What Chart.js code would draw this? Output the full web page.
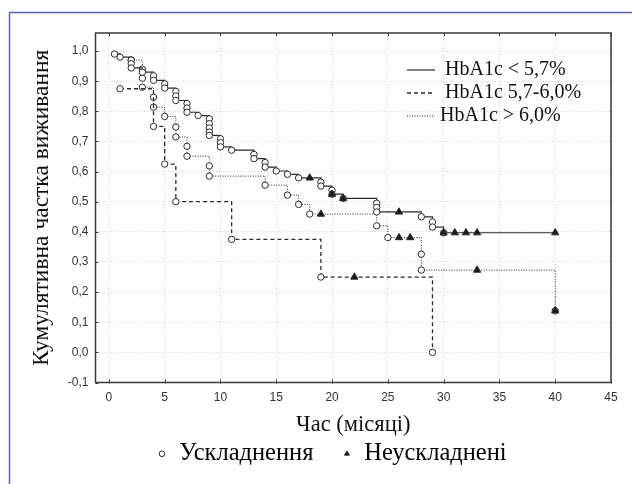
<!DOCTYPE html>
<html>
<head>
<meta charset="utf-8">
<script src="https://cdn.jsdelivr.net/npm/chart.js@4.4.0/dist/chart.umd.min.js"></script>
<style>
  html, body { margin: 0; padding: 0; background: #fff; }
  #wrap { position: relative; width: 632px; height: 484px; }
</style>
</head>
<body>
<div id="wrap"><canvas id="km" width="632" height="484"></canvas></div>
<script>
// Kaplan-Meier curves
const groupNames = ["HbA1c < 5,7%", "HbA1c 5,7-6,0%", "HbA1c > 6,0%"];
const markerNames = ["Ускладнення", "Неускладнені"];
const xTitle = "Час (місяці)";
const yTitle = "Кумулятивна частка виживання";
const xTicks = [0, 5, 10, 15, 20, 25, 30, 35, 40, 45];
const yTicks = [-0.1, 0, 0.1, 0.2, 0.3, 0.4, 0.5, 0.6, 0.7, 0.8, 0.9, 1.0];

// 1 = censored (triangle), 0 = complication (circle)
const lowTime = [0.5, 1, 2, 2, 2, 3, 4, 4, 5, 5, 6, 6, 6, 7, 7, 7, 8, 9, 9, 9, 9, 9, 10, 10, 10, 11, 13, 13, 14, 14, 15, 16, 17, 18, 19, 19, 20, 20, 20, 21, 21, 24, 24, 24, 26, 28, 29, 29, 30, 30, 31, 32, 33, 40];
const lowSurv = [0.99, 0.98, 0.97, 0.958, 0.944, 0.93, 0.918, 0.903, 0.891, 0.877, 0.866, 0.851, 0.836, 0.826, 0.811, 0.797, 0.786, 0.775, 0.759, 0.745, 0.731, 0.72, 0.709, 0.696, 0.682, 0.671, 0.657, 0.643, 0.63, 0.615, 0.602, 0.591, 0.579, 0.579, 0.565, 0.552, 0.538, 0.525, 0.525, 0.511, 0.511, 0.495, 0.481, 0.466, 0.466, 0.45, 0.433, 0.416, 0.397, 0.397, 0.397, 0.397, 0.397, 0.397];
const lowCens = [0, 0, 0, 0, 0, 0, 0, 0, 0, 0, 0, 0, 0, 0, 0, 0, 0, 0, 0, 0, 0, 0, 0, 0, 0, 0, 0, 0, 0, 0, 0, 0, 0, 1, 0, 0, 0, 0, 1, 0, 1, 0, 0, 0, 1, 0, 0, 0, 0, 1, 1, 1, 1, 1];

const midTime = [1, 4, 5, 6, 11, 19, 22, 29];
const midSurv = [0.875, 0.75, 0.625, 0.5, 0.375, 0.25, 0.25, 0];
const midCens = [0, 0, 0, 0, 0, 0, 1, 0];

const highTime = [2, 3, 3, 3, 4, 4, 5, 6, 6, 7, 7, 9, 9, 14, 16, 17, 18, 19, 24, 25, 26, 27, 28, 28, 33, 40, 40];
const highSurv = [0.97, 0.94, 0.91, 0.88, 0.847, 0.814, 0.783, 0.748, 0.715, 0.684, 0.651, 0.619, 0.585, 0.555, 0.522, 0.491, 0.459, 0.459, 0.42, 0.381, 0.381, 0.381, 0.326, 0.273, 0.273, 0.138, 0.138];
const highCens = [0, 0, 0, 0, 0, 0, 0, 0, 0, 0, 0, 0, 0, 0, 0, 0, 0, 1, 0, 0, 1, 1, 0, 0, 1, 0, 1];

const ink = "#2b2b2b";

function kmDataset(label, times, surv, cens, dash, width) {
  return {
    label: label,
    data: times.map((t, i) => ({ x: t, y: surv[i] })),
    stepped: true,
    fill: false,
    borderColor: ink,
    borderWidth: width,
    borderDash: dash,
    pointStyle: cens.map(c => (c ? "triangle" : "circle")),
    pointRadius: cens.map(c => (c ? 4.2 : 3.2)),
    pointHoverRadius: cens.map(c => (c ? 4.2 : 3.2)),
    pointBackgroundColor: cens.map(c => (c ? "#1a1a1a" : "#fff")),
    pointBorderColor: ink,
    pointBorderWidth: 1,
  };
}

// line legend inside the plot, frame, inward ticks, page border
const decorations = {
  id: "decorations",
  beforeDraw(chart) {
    const ctx = chart.ctx;
    ctx.save();
    ctx.strokeStyle = "#5563ab";
    ctx.lineWidth = 1.5;
    ctx.beginPath();
    ctx.moveTo(9.5, 484);
    ctx.lineTo(9.5, 12.5);
    ctx.lineTo(632, 12.5);
    ctx.stroke();
    ctx.restore();
  },
  afterDraw(chart) {
    const { ctx, chartArea: a, scales } = chart;
    ctx.save();
    ctx.strokeStyle = "#3a3a3a";
    ctx.lineWidth = 1.5;
    ctx.strokeRect(a.left, a.top, a.right - a.left, a.bottom - a.top);
    ctx.lineWidth = 1;
    ctx.beginPath();
    xTicks.forEach(v => {
      const px = Math.round(scales.x.getPixelForValue(v)) + 0.5;
      ctx.moveTo(px, a.top); ctx.lineTo(px, a.top + 3);
      ctx.moveTo(px, a.bottom + 1); ctx.lineTo(px, a.bottom - 3);
    });
    yTicks.forEach(v => {
      const py = Math.round(scales.y.getPixelForValue(v)) + 0.5;
      ctx.moveTo(a.left, py); ctx.lineTo(a.left + 3, py);
    });
    ctx.stroke();

    ctx.font = "20px 'Liberation Serif', 'Times New Roman', serif";
    ctx.textBaseline = "middle";
    ctx.fillStyle = "#111";
    chart.data.datasets.forEach((ds, i) => {
      const y = 70 + i * 23;
      ctx.strokeStyle = ink;
      ctx.lineWidth = ds.borderWidth;
      ctx.setLineDash(ds.borderDash);
      ctx.beginPath();
      ctx.moveTo(407, y);
      ctx.lineTo(435, y);
      ctx.stroke();
      ctx.fillText(ds.label, i === 2 ? 440 : 445, y);
    });
    ctx.restore();
  },
};

new Chart(document.getElementById("km"), {
  type: "line",
  data: {
    datasets: [
      kmDataset(groupNames[0], lowTime, lowSurv, lowCens, [], 1.2),
      kmDataset(groupNames[1], midTime, midSurv, midCens, [4, 3], 1.3),
      kmDataset(groupNames[2], highTime, highSurv, highCens, [1, 1.5], 1),
    ],
  },
  options: {
    responsive: false,
    animation: false,
    layout: { padding: { left: 28, top: 33, right: 21, bottom: 8 } },
    plugins: {
      tooltip: { enabled: false },
      legend: {
        position: "bottom",
        fullSize: false,
        onClick: () => {},
        labels: {
          usePointStyle: true,
          boxWidth: 10,
          boxHeight: 4,
          padding: 4,
          color: "#111",
          font: { family: "'Liberation Serif', 'Times New Roman', serif", size: 24.5 },
          generateLabels: () => [
            { text: markerNames[0] + "    ", pointStyle: "circle", fillStyle: "#fff", strokeStyle: ink, lineWidth: 1, hidden: false, datasetIndex: 0 },
            { text: markerNames[1] + "       ", pointStyle: "triangle", fillStyle: "#1a1a1a", strokeStyle: ink, lineWidth: 1, hidden: false, datasetIndex: 1 },
          ],
        },
      },
    },
    scales: {
      x: {
        type: "linear",
        min: -1.2,
        max: 45,
        afterBuildTicks: s => { s.ticks = xTicks.map(v => ({ value: v })); },
        afterFit: s => { s.height = 55; },
        ticks: {
          autoSkip: false,
          maxRotation: 0,
          padding: 8,
          color: "#333",
          font: { family: "'Liberation Sans', Arial, sans-serif", size: 12 },
          callback: v => String(v),
        },
        grid: { color: "#d2d2d2", drawTicks: false },
        border: { display: false, dash: [1, 2] },
        title: {
          display: true,
          text: xTitle,
          color: "#111",
          font: { family: "'Liberation Serif', 'Times New Roman', serif", size: 22.5, lineHeight: 1 },
          padding: { top: 0, bottom: 1.5 },
        },
      },
      y: {
        min: -0.1,
        max: 1.06,
        afterBuildTicks: s => { s.ticks = yTicks.map(v => ({ value: v })); },
        afterFit: s => { s.width = 67.5; },
        ticks: {
          padding: 7,
          color: "#333",
          font: { family: "'Liberation Sans', Arial, sans-serif", size: 12 },
          callback: v => v.toFixed(1).replace(".", ","),
        },
        grid: { color: "#d2d2d2", drawTicks: false },
        border: { display: false, dash: [1, 2] },
        title: {
          display: true,
          text: yTitle,
          color: "#111",
          font: { family: "'Liberation Serif', 'Times New Roman', serif", size: 23.5, lineHeight: 1.2 },
          padding: 0,
        },
      },
    },
  },
  plugins: [decorations],
});
</script>
</body>
</html>
